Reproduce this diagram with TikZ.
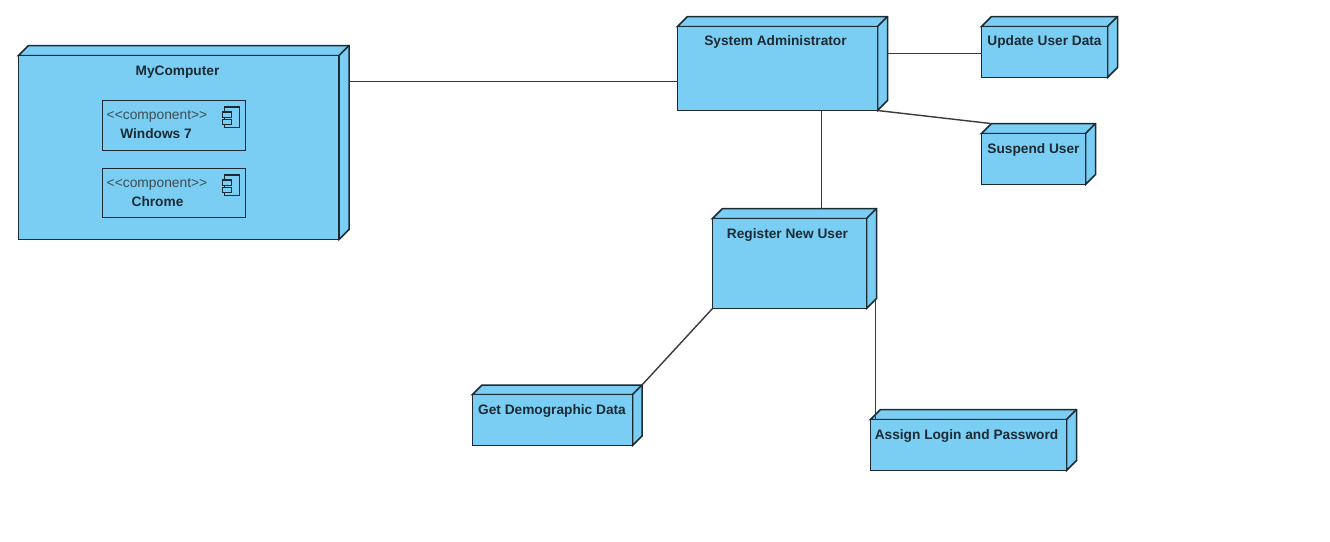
\documentclass[tikz,border=0pt]{standalone}
\usepackage{fontspec}
\setmainfont{Liberation Sans}
\usetikzlibrary{calc}
\definecolor{nodefill}{HTML}{7ACEF4}
\definecolor{edgeink}{HTML}{1C2B33}
\definecolor{wireink}{HTML}{3A3A3A}
\tikzset{
  nodeface/.style={draw=edgeink,fill=nodefill,line width=1.5pt,inner sep=0pt,outer sep=0pt,line join=miter},
  nodeside/.style={draw=edgeink,fill=nodefill,line width=1.5pt,line join=miter},
  nodehull/.style={inner sep=0pt,outer sep=0pt},
  nodetitle/.style={font=\fontsize{13.7}{15}\selectfont\bfseries,text=edgeink,inner sep=0pt},
  stereo/.style={font=\fontsize{13.8}{15}\selectfont,text=edgeink!85!white,inner sep=0pt},
  compicon/.style={draw=edgeink,fill=nodefill,line width=1.1pt},
  wire/.style={draw=wireink,line width=1.4pt},
}
% #1 name, #2-#5 x0,y0,x1,y1 of the front face, #6 depth, #7 label x, #8 label y, #9 label
\newcommand{\depnode}[9]{%
  \pgfmathsetmacro{\fw}{#4-#2}\pgfmathsetmacro{\fh}{#5-#3}%
  \pgfmathsetmacro{\hx}{#4+#6}\pgfmathsetmacro{\hy}{#3-#6}%
  \pgfmathsetmacro{\hw}{\fw+#6}\pgfmathsetmacro{\hh}{\fh+#6}%
  \path[nodeside] (#2,#3) -- ++(#6,-#6) -- (\hx,\hy) -- ++(0,\fh) -- (#4,#5) -- (#4,#3) -- cycle;
  \draw[nodeside,fill=none] (#4,#3) -- (\hx,\hy);
  \node[nodehull,minimum width=\hw pt,minimum height=\hh pt] (#1) at ($(#2,\hy)!.5!(\hx,#5)$) {};
  \node[nodeface,minimum width=\fw pt,minimum height=\fh pt] (#1-face) at ($(#2,#3)!.5!(#4,#5)$) {};
  \node[nodetitle] (#1-title) at (#7,#8) {#9};
}
% #1 name, #2 y0, #3 y1, #4 stereotype y, #5 title x, #6 title y, #7 title
\newcommand{\compbox}[7]{%
  \pgfmathsetmacro{\fh}{#3-#2}%
  \node[nodeface,minimum width=143pt,minimum height=\fh pt] (#1) at ($(102.5,#2)!.5!(245.5,#3)$) {};
  \node[stereo] (#1-stereo) at (157,#4) {{<}{<}component{>}{>}};
  \node[nodetitle] (#1-title) at (#5,#6) {#7};
  \draw[compicon] (224.5,#2+6.5) rectangle (239.5,#2+27);
  \draw[compicon] (222.5,#2+11.5) rectangle (231.5,#2+17);
  \draw[compicon] (222.5,#2+19) rectangle (231.5,#2+24);
}
\begin{document}
\begin{tikzpicture}[x=1pt,y=-1pt]
\fill[white] (0,0) rectangle (1330,541);
\useasboundingbox (0,0) rectangle (1330,541);

\depnode{mycomputer}{18.5}{55.5}{339}{239.5}{10}{177.5}{72}{MyComputer}
\compbox{windows}{100.5}{150.5}{116}{156}{133.5}{Windows 7}
\compbox{chrome}{168.5}{217.5}{184}{157.5}{201.5}{Chrome}
\depnode{sysadmin}{677.5}{26.5}{877.5}{110.5}{10}{775.5}{42}{System Administrator}
\depnode{update}{981.5}{26.5}{1107.5}{77.5}{10}{1044.5}{42}{Update User Data}
\depnode{suspend}{981.5}{133.5}{1085.5}{184.5}{10}{1033.5}{149.5}{Suspend User}
\depnode{register}{712.5}{218.5}{866.5}{308.5}{10}{787.5}{234.5}{Register New User}
\depnode{demo}{472.5}{394.5}{632.5}{445.5}{9.5}{552}{410.5}{Get Demographic Data}
\depnode{assign}{870.5}{419.5}{1066.5}{470.5}{10}{966.5}{435.5}{Assign Login and Password}

\path[wire] ([yshift=-13pt]sysadmin-face.west) -- ([yshift=-13pt]sysadmin-face.west -| mycomputer.east);
\path[wire] ([yshift=-1.5pt]update-face.west) -- ([yshift=-1.5pt]update-face.west -| sysadmin.east);
\path[wire] (sysadmin-face.south east) -- ([xshift=9pt]suspend-face.north west |- suspend.north);
\path[wire] ([xshift=27pt]register.north) -- ([xshift=27pt]register.north |- sysadmin-face.south);
\path[wire] (register-face.south west) -- (demo.north east);
\path[wire] ([xshift=-1pt,yshift=9pt]register.south east) -- ([xshift=-1pt]register.south east |- assign-face.north);
\end{tikzpicture}
\end{document}
